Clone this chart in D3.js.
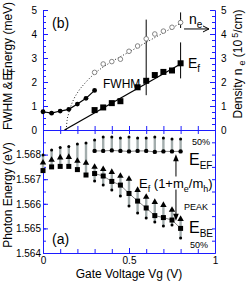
<!DOCTYPE html>
<html>
<head>
<meta charset="utf-8">
<script src="https://cdn.jsdelivr.net/npm/d3@7"></script>
<style>
  body { margin: 0; background: #fff; }
  svg { display: block; font-family: "Liberation Sans", Arial, sans-serif; }
  .axis path, .axis line { stroke: #1c1cff; }
  .axis text { font-family: "Liberation Sans", Arial, sans-serif; font-size: 10px; fill: #000; }
</style>
</head>
<body>
<svg id="chart" width="249" height="281"></svg>
<script>
// ---- panel (b): FWHM, Ef and density ne vs gate voltage
const vgFwhm = [0, 0.05, 0.1, 0.15, 0.2, 0.25, 0.3];
const fwhm = [0.76, 0.7, 0.79, 0.86, 1.08, 1.32, 1.65];
const vgEf = [0.3, 0.35, 0.4, 0.45, 0.55, 0.6, 0.65, 0.7, 0.75, 0.8];
const ef = [0.83, 0.94, 1.12, 1.2, 1.78, 2.05, 2.29, 2.42, 2.48, 2.78];
const efFitVg = [0.125, 0.8];
const efFit = [0, 2.75];
const vgNe = [0.3, 0.35, 0.4, 0.45, 0.5, 0.55, 0.6, 0.65, 0.7, 0.75, 0.8];
const ne = [2.4, 2.75, 2.85, 2.95, 3.28, 3.5, 3.8, 4.0, 4.12, 4.28, 4.48];
const neFitVg = [0.135, 0.14, 0.15, 0.16, 0.18, 0.2, 0.25, 0.3, 0.4, 0.5, 0.6, 0.7, 0.8];
const neFit = [0, 0.4, 0.7, 0.95, 1.3, 1.55, 2.0, 2.35, 2.85, 3.25, 3.65, 4.05, 4.45];
const errVg = [0.6, 0.8, 0.8];
const errLo = [1.45, 4.25, 2.15];
const errHi = [4.6, 4.9, 3.65];

// ---- panel (a): photon energies (eV)
const vgLow = [0, 0.05, 0.1, 0.15, 0.2, 0.25, 0.3, 0.35, 0.4, 0.45, 0.5, 0.55, 0.6, 0.65, 0.7, 0.75, 0.8];
const peakEV = [1.56767, 1.56778, 1.56788, 1.5679, 1.56774, 1.56766, 1.5675, 1.56741, 1.56729, 1.56713,
  1.56701, 1.56656, 1.56628, 1.56607, 1.56595, 1.56575, 1.56538];
const beEV = [1.56735, 1.5675, 1.56752, 1.56752, 1.56739, 1.56717, 1.56723, 1.56713, 1.56691, 1.56676,
  1.56642, 1.56611, 1.56583, 1.56552, 1.56544, 1.56534, 1.565];
const hiEV = [1.56798, 1.56819, 1.56829, 1.56833, 1.56843, 1.56847]; // first six voltages
const loEV = [1.56693, 1.56676, 1.56656, 1.56632, 1.56591, 1.56563, 1.56542, 1.56526, 1.5651, 1.56514, 1.56461]; // 0.3..0.8
const vgEF = [0.3, 0.35, 0.4, 0.45, 0.5, 0.55, 0.6, 0.65, 0.7, 0.75, 0.8];
const efEV = [1.56815, 1.56815, 1.56817, 1.56815, 1.56813, 1.56815, 1.56815, 1.56811, 1.56813, 1.56813, 1.56813];
const efHiEV = [1.56859, 1.56872, 1.56872, 1.56867, 1.56872, 1.56867, 1.56867, 1.56872, 1.56867, 1.56863, 1.56863];

// tick labels
const xMajor = [0, 0.5, 1];
const topMajor = [0, 1, 2, 3, 4, 5];
const botMajor = [1.564, 1.565, 1.566, 1.567, 1.568];

const svg = d3.select("#chart");
const x = d3.scaleLinear().domain([0, 1]).range([43, 215]);
const yTop = d3.scaleLinear().domain([0, 5]).range([130, 10]);
const yDen = d3.scaleLinear().domain([0, 5]).range([130, 10]);
const yBot = d3.scaleLinear().domain([1.564, 1.569]).range([253, 130]);

function addAxis(axis, tx, ty) {
  svg.append("g").attr("class", "axis").attr("transform", `translate(${tx},${ty})`).call(axis);
}

// left axes
addAxis(d3.axisLeft(yTop).tickValues(d3.range(0, 5.001, 0.25)).tickSize(-3).tickSizeOuter(0).tickFormat(""), 43, 0);
addAxis(d3.axisLeft(yTop).tickValues(topMajor).tickSize(-5).tickSizeOuter(0).tickPadding(6).tickFormat(d3.format("d")), 43, 0);
addAxis(d3.axisLeft(yBot).tickValues(d3.range(0, 11).map((i) => 1.564 + i * 0.0005)).tickSize(-3).tickSizeOuter(0).tickFormat(""), 43, 0);
addAxis(d3.axisLeft(yBot).tickValues(botMajor).tickSize(-5).tickSizeOuter(0).tickPadding(2).tickFormat(d3.format(".3f")), 43, 0);

// right axes
addAxis(d3.axisRight(yDen).tickValues(d3.range(0, 5.001, 0.25)).tickSize(-3).tickSizeOuter(0).tickFormat(""), 215, 0);
addAxis(d3.axisRight(yDen).tickValues(topMajor).tickSize(-5).tickSizeOuter(0).tickPadding(6).tickFormat(d3.format("d")), 215, 0);
addAxis(d3.axisRight(yBot).tickValues(d3.range(0, 11).map((i) => 1.564 + i * 0.0005)).tickSize(-3).tickSizeOuter(0).tickFormat(""), 215, 0);

// x axes: middle (shared) and bottom
const xMinor = d3.range(0, 11).map((i) => i / 10);
addAxis(d3.axisBottom(x).tickValues(xMinor).tickSize(-4).tickSizeOuter(0).tickFormat(""), 0, 130);
addAxis(d3.axisTop(x).tickValues(xMinor).tickSize(-4).tickSizeOuter(0).tickFormat(""), 0, 130);
addAxis(d3.axisBottom(x).tickValues(xMinor).tickSize(-4).tickSizeOuter(0).tickFormat(""), 0, 253);
addAxis(d3.axisBottom(x).tickValues(xMajor).tickSize(-5).tickSizeOuter(0).tickPadding(4)
  .tickFormat((d) => (d === 0.5 ? "0.5" : d3.format("d")(d))), 0, 253);

// ---- panel (b) marks
const pts = (xs, ys) => xs.map((v, i) => [v, ys[i]]);
const lineTop = d3.line().x((d) => x(d[0])).y((d) => yTop(d[1]));

// error bars
svg.append("g").selectAll("line").data(errVg).join("line")
  .attr("x1", (d) => x(d)).attr("x2", (d) => x(d))
  .attr("y1", (d, i) => yTop(errLo[i])).attr("y2", (d, i) => yTop(errHi[i]))
  .attr("stroke", "#000").attr("stroke-width", 1);

// ne fit (dotted)
svg.append("path").datum(pts(neFitVg, neFit))
  .attr("d", d3.line().x((d) => x(d[0])).y((d) => yDen(d[1])).curve(d3.curveMonotoneX))
  .attr("fill", "none").attr("stroke", "#222").attr("stroke-width", 1).attr("stroke-dasharray", "1,2");

// Ef fit (solid)
svg.append("path").datum(pts(efFitVg, efFit)).attr("d", lineTop)
  .attr("fill", "none").attr("stroke", "#000").attr("stroke-width", 1.3);

// FWHM
svg.append("path").datum(pts(vgFwhm, fwhm)).attr("d", lineTop)
  .attr("fill", "none").attr("stroke", "#000").attr("stroke-width", 1.2);
svg.append("g").selectAll("circle").data(pts(vgFwhm, fwhm)).join("circle")
  .attr("cx", (d) => x(d[0])).attr("cy", (d) => yTop(d[1])).attr("r", 2.4).attr("fill", "#000");

// Ef squares
svg.append("g").selectAll("rect").data(pts(vgEf, ef)).join("rect")
  .attr("x", (d) => x(d[0]) - 3).attr("y", (d) => yTop(d[1]) - 3)
  .attr("width", 6).attr("height", 6).attr("fill", "#000");

// ne open circles
svg.append("g").selectAll("circle").data(pts(vgNe, ne)).join("circle")
  .attr("cx", (d) => x(d[0])).attr("cy", (d) => yDen(d[1])).attr("r", 2.3)
  .attr("fill", "#fff").attr("stroke", "#777").attr("stroke-width", 0.9);

// ne arrow -> right axis
{
  const x0 = x(0.82), x1 = x(0.965), yy = yDen(4.21);
  svg.append("path")
    .attr("d", `M${x0},${yy}H${x1}M${x1 - 6},${yy - 3}L${x1},${yy}L${x1 - 6},${yy + 3}`)
    .attr("fill", "none").attr("stroke", "#000").attr("stroke-width", 1);
}

// ---- panel (a) marks
const rows = vgLow.map((v, i) => ({
  vg: v,
  peak: peakEV[i],
  be: beEV[i],
  top: i < 6 ? hiEV[i] : peakEV[i],
  bottom: i < 6 ? beEV[i] : loEV[i - 6],
}));
const upper = vgEF.map((v, i) => ({ vg: v, ef: efEV[i], hi: efHiEV[i] }));
const lineBot = d3.line().x((d) => x(d[0])).y((d) => yBot(d[1]));

// connecting lines
svg.append("path").datum(upper.map((d) => [d.vg, d.ef])).attr("d", lineBot)
  .attr("fill", "none").attr("stroke", "#666").attr("stroke-width", 0.8);
svg.append("path").datum(rows.filter((d) => d.vg >= 0.3).map((d) => [d.vg, d.be])).attr("d", lineBot)
  .attr("fill", "none").attr("stroke", "#666").attr("stroke-width", 0.8);

// gray range bars
const barColor = "#a3adad";
svg.append("g").selectAll("line").data(rows).join("line")
  .attr("x1", (d) => x(d.vg)).attr("x2", (d) => x(d.vg))
  .attr("y1", (d) => yBot(d.bottom)).attr("y2", (d) => yBot(d.top))
  .attr("stroke", barColor).attr("stroke-width", 2.4);
svg.append("g").selectAll("line").data(upper).join("line")
  .attr("x1", (d) => x(d.vg)).attr("x2", (d) => x(d.vg))
  .attr("y1", (d) => yBot(d.ef)).attr("y2", (d) => yBot(d.hi))
  .attr("stroke", barColor).attr("stroke-width", 2.4);

// small 50% dots
const dots = rows.filter((d, i) => i < 6).map((d) => [d.vg, d.top])
  .concat(rows.filter((d, i) => i >= 6).map((d) => [d.vg, d.bottom]))
  .concat(upper.map((d) => [d.vg, d.hi]));
svg.append("g").selectAll("circle").data(dots).join("circle")
  .attr("cx", (d) => x(d[0])).attr("cy", (d) => yBot(d[1])).attr("r", 1.5).attr("fill", "#000");

// peak triangles
const tri = d3.symbol(d3.symbolTriangle, 18);
svg.append("g").selectAll("path").data(rows).join("path")
  .attr("transform", (d) => `translate(${x(d.vg)},${yBot(d.peak)})`)
  .attr("d", tri).attr("fill", "#000");

// E_BE squares
svg.append("g").selectAll("rect").data(rows).join("rect")
  .attr("x", (d) => x(d.vg) - 2.5).attr("y", (d) => yBot(d.be) - 2.5)
  .attr("width", 5).attr("height", 5).attr("fill", "#000");

// E_EF circles
svg.append("g").selectAll("circle").data(upper).join("circle")
  .attr("cx", (d) => x(d.vg)).attr("cy", (d) => yBot(d.ef)).attr("r", 2.2).attr("fill", "#000");

// Ef(1+me/mh) arrows
function vArrow(vg, e0, e1) {
  const xx = x(vg), ya = yBot(e0), yb = yBot(e1), s = yb < ya ? 1 : -1;
  svg.append("line").attr("x1", xx).attr("x2", xx).attr("y1", ya).attr("y2", yb + s * 5)
    .attr("stroke", "#000").attr("stroke-width", 1);
  svg.append("path").attr("d", `M${xx},${yb}L${xx - 2.8},${yb + s * 7}L${xx + 2.8},${yb + s * 7}Z`).attr("fill", "#000");
}
vArrow(0.773, 1.56711, 1.56801);
vArrow(0.773, 1.56658, 1.56531);

// ---- text
function rich(px, py, size, parts) {
  const t = svg.append("text").attr("x", px).attr("y", py).attr("font-size", size).attr("fill", "#000");
  parts.forEach((p) => {
    const s = t.append("tspan").text(p.t);
    if (p.s) s.attr("font-size", p.s);
    if (p.dy) s.attr("dy", p.dy);
    if (p.dx) s.attr("dx", p.dx);
  });
  return t;
}

rich(52, 28, 14, [{ t: "(b)" }]);
rich(52, 244, 14, [{ t: "(a)" }]);
rich(103, 88, 12, [{ t: "FWHM" }]);
rich(188, 68, 14, [{ t: "E" }, { t: "f", s: 10, dy: 4 }]);
rich(189, 24, 14, [{ t: "n" }, { t: "e", s: 10, dy: 4 }]);
rich(192, 145, 9, [{ t: "50%" }]);
rich(189, 165, 16, [{ t: "E" }, { t: "EF", s: 10, dy: 4 }]);
rich(139, 188, 13, [{ t: "E" }, { t: "f", s: 9, dy: 4 }, { t: " (1+m", dy: -4 }, { t: "e", s: 9, dy: 4 },
  { t: "/m", dy: -4 }, { t: "h", s: 9, dy: 4 }, { t: ")", dy: -4 }]);
rich(184, 210, 9, [{ t: "PEAK" }]);
rich(189, 233, 16, [{ t: "E" }, { t: "BE", s: 10, dy: 4 }]);
rich(190, 248, 9, [{ t: "50%" }]);

// axis titles
rich(0, 0, 12, [{ t: "FWHM &" }, { t: "E", dx: 1 }, { t: "f", s: 9, dy: 3 }, { t: "Energy (meV)", dy: -3, dx: -6 }])
  .attr("text-anchor", "middle").attr("transform", "translate(12,66) rotate(-90)");
rich(0, 0, 12, [{ t: "Photon Energy (eV)" }])
  .attr("text-anchor", "middle").attr("transform", "translate(12,195) rotate(-90)");
rich(0, 0, 12, [{ t: "Density n" }, { t: "e", s: 9, dy: 3, dx: 3 }, { t: " (10", dy: -3 }, { t: "5", s: 9, dy: -4, dx: 2 }, { t: "/cm)", dy: 4 }])
  .attr("text-anchor", "middle").attr("transform", "translate(242,64) rotate(-90)");
rich(129, 278, 12, [{ t: "Gate Voltage Vg (V)" }]).attr("text-anchor", "middle");
</script>
</body>
</html>
